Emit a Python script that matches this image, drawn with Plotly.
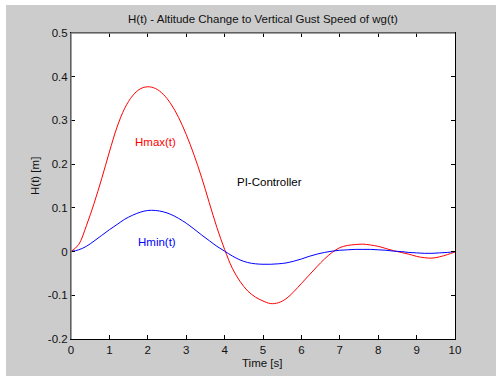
import plotly.graph_objects as go

t = [0, 0.2, 0.4, 0.6, 0.8, 1.0, 1.2, 1.4, 1.6, 1.8, 2.0, 2.2, 2.4, 2.6, 2.8, 3.0, 3.2, 3.4, 3.6,
     3.8, 4.0, 4.2, 4.4, 4.6, 4.8, 5.0, 5.2, 5.4, 5.6, 5.8, 6.0, 6.2, 6.4, 6.6, 6.8, 7.0, 7.2,
     7.4, 7.6, 7.8, 8.0, 8.2, 8.4, 8.6, 8.8, 9.0, 9.2, 9.4, 9.6, 9.8, 10.0]

hmax = [0, 0.016, 0.059, 0.110, 0.167, 0.228, 0.285, 0.328, 0.356, 0.372, 0.377, 0.373, 0.360,
        0.338, 0.307, 0.268, 0.222, 0.170, 0.112, 0.055, 0.005, -0.038, -0.068, -0.090, -0.104,
        -0.113, -0.119, -0.117, -0.108, -0.092, -0.073, -0.054, -0.035, -0.017, -0.002, 0.009,
        0.014, 0.016, 0.017, 0.015, 0.012, 0.007, 0.002, -0.002, -0.006, -0.011, -0.014, -0.015,
        -0.012, -0.007, -0.001]

hmin = [0, 0.004, 0.012, 0.024, 0.037, 0.050, 0.062, 0.074, 0.083, 0.090, 0.094, 0.094, 0.091,
        0.085, 0.076, 0.065, 0.052, 0.038, 0.025, 0.012, 0.001, -0.010, -0.019, -0.025, -0.028,
        -0.029, -0.029, -0.028, -0.026, -0.022, -0.017, -0.011, -0.006, -0.002, 0.001, 0.003,
        0.004, 0.005, 0.005, 0.005, 0.004, 0.003, 0.001, 0.0, -0.002, -0.003, -0.004, -0.004,
        -0.003, -0.002, 0.0]

x_ticks = [0, 1, 2, 3, 4, 5, 6, 7, 8, 9, 10]
y_ticks = [-0.2, -0.1, 0, 0.1, 0.2, 0.3, 0.4, 0.5]
y_tick_labels = ["-0.2", "-0.1", "0", "0.1", "0.2", "0.3", "0.4", "0.5"]

FONT = "Liberation Sans, Arial, sans-serif"
W, H = 496, 379
ML, MR, MT, MB = 71, 41, 33, 40
PW, PH = W - ML - MR, H - MT - MB


def px_to_paper_x(px):
    return (px - ML) / PW


def px_to_paper_y(py):
    return (H - MB - py) / PH


fig = go.Figure()
fig.add_trace(go.Scatter(x=t, y=hmax, mode="lines", line=dict(color="#ff0000", width=1, shape="spline"),
                         showlegend=False, hoverinfo="skip"))
fig.add_trace(go.Scatter(x=t, y=hmin, mode="lines", line=dict(color="#0000ff", width=1, shape="spline"),
                         showlegend=False, hoverinfo="skip"))

axis_common = dict(showgrid=False, zeroline=False, showline=True, linecolor="black", linewidth=1,
                   ticks="inside", ticklen=4, tickcolor="black", tickwidth=1, mirror="ticks",
                   tickfont=dict(family=FONT, size=11.5, color="#111111"))

fig.update_xaxes(range=[0, 10], tickvals=x_ticks, ticktext=[str(v) for v in x_ticks], **axis_common)
fig.update_yaxes(range=[-0.2, 0.5], tickvals=y_ticks, ticktext=y_tick_labels, **axis_common)

annotations = [
    dict(text="H(t) - Altitude Change to Vertical Gust Speed of wg(t)", xref="paper", yref="paper",
         x=0.5, y=px_to_paper_y(19), xanchor="center", yanchor="middle", showarrow=False,
         font=dict(family=FONT, size=11.5, color="#111111")),
    dict(text="Time [s]", xref="paper", yref="paper", x=px_to_paper_x(262), y=px_to_paper_y(363),
         xanchor="center", yanchor="middle", showarrow=False,
         font=dict(family=FONT, size=11.5, color="#111111")),
    dict(text="H(t) [m]", xref="paper", yref="paper", x=px_to_paper_x(35), y=px_to_paper_y(176),
         xanchor="center", yanchor="middle", showarrow=False, textangle=-90,
         font=dict(family=FONT, size=11.5, color="#111111")),
    dict(text="Hmax(t)", xref="x", yref="y", x=2.2, y=0.25, xanchor="center", yanchor="middle",
         showarrow=False, font=dict(family=FONT, size=11.5, color="#ff0000")),
    dict(text="Hmin(t)", xref="x", yref="y", x=2.25, y=0.022, xanchor="center", yanchor="middle",
         showarrow=False, font=dict(family=FONT, size=11.5, color="#0000ff")),
    dict(text="PI-Controller", xref="x", yref="y", x=5.18, y=0.16, xanchor="center", yanchor="middle",
         showarrow=False, font=dict(family=FONT, size=11.5, color="#000000")),
]

shapes = [
    # white strips around the gray figure background
    dict(type="rect", xref="paper", yref="paper", layer="below",
         x0=px_to_paper_x(0), x1=px_to_paper_x(6), y0=px_to_paper_y(H), y1=px_to_paper_y(0),
         fillcolor="white", line=dict(width=0)),
    dict(type="rect", xref="paper", yref="paper", layer="below",
         x0=px_to_paper_x(0), x1=px_to_paper_x(W), y0=px_to_paper_y(5), y1=px_to_paper_y(0),
         fillcolor="white", line=dict(width=0)),
    dict(type="rect", xref="paper", yref="paper", layer="below",
         x0=px_to_paper_x(0), x1=px_to_paper_x(W), y0=px_to_paper_y(H), y1=px_to_paper_y(376),
         fillcolor="white", line=dict(width=0)),
    # gray top and left box edges
    dict(type="line", xref="paper", yref="paper", layer="above", x0=0, x1=1, y0=1, y1=1,
         line=dict(color="#808080", width=1.5)),
    dict(type="line", xref="paper", yref="paper", layer="above", x0=0, x1=0, y0=0, y1=1,
         line=dict(color="#808080", width=1.5)),
]

fig.update_layout(width=W, height=H, margin=dict(l=ML, r=MR, t=MT, b=MB, autoexpand=False),
                  paper_bgcolor="#cccccc", plot_bgcolor="white",
                  annotations=annotations, shapes=shapes, showlegend=False)

fig.write_html("out.html")
